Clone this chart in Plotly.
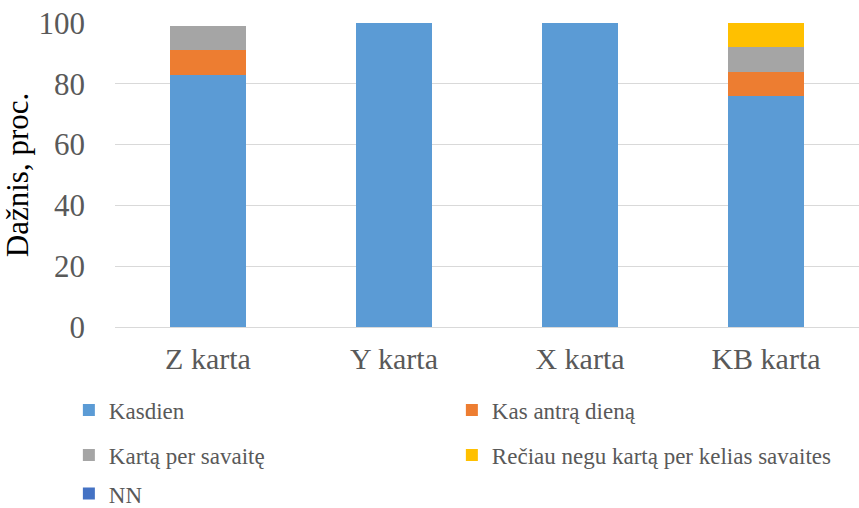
import plotly.graph_objects as go

kategorijos = ['Z karta', 'Y karta', 'X karta', 'KB karta']
kasdien = [83, 100, 100, 76]
kas_antra = [8, 0, 0, 8]
karta_per_savaite = [8, 0, 0, 8]
reciau = [0, 0, 0, 8]
nn = [0, 0, 0, 0]

serijos = [
    ('Kasdien', kasdien, '#5B9BD5', 'legend'),
    ('Kas antrą dieną', kas_antra, '#ED7D31', 'legend'),
    ('Kartą per savaitę', karta_per_savaite, '#A5A5A5', 'legend2'),
    ('Rečiau negu kartą per kelias savaites', reciau, '#FFC000', 'legend2'),
    ('NN', nn, '#4472C4', 'legend3'),
]

serif = 'Liberation Serif, Times New Roman, serif'

fig = go.Figure()
for vardas, reiksmes, spalva, leg in serijos:
    fig.add_trace(go.Bar(x=kategorijos, y=reiksmes, name=vardas,
                         marker=dict(color=spalva, line=dict(width=0)),
                         legend=leg))

def leg_style(y):
    return dict(orientation='h', xanchor='left', yanchor='middle',
                x=-0.062, y=y, entrywidth=338, entrywidthmode='pixels',
                font=dict(family=serif, size=23, color='#595959'),
                bgcolor='rgba(0,0,0,0)', traceorder='normal')

fig.update_layout(
    barmode='stack',
    bargap=0.59,
    width=859, height=508,
    margin=dict(l=115, r=0, t=23, b=181, autoexpand=False),
    plot_bgcolor='#FFFFFF', paper_bgcolor='#FFFFFF',
    font=dict(family=serif, color='#595959'),
    legend=leg_style(-0.273),
    legend2=leg_style(-0.421),
    legend3=leg_style(-0.548),
)
fig.update_yaxes(range=[0, 100], dtick=20, showgrid=True, gridcolor='#D9D9D9',
                 gridwidth=1.3, zeroline=False, showline=False, automargin=False,
                 tickfont=dict(family=serif, size=31, color='#595959'),
                 ticklabelstandoff=29,
                 title=dict(text='Dažnis, proc.', standoff=2,
                            font=dict(family=serif, size=31, color='#000000')))
fig.update_xaxes(showline=True, linecolor='#D9D9D9', linewidth=1.3, automargin=False,
                 tickfont=dict(family=serif, size=30, color='#595959'),
                 ticklabelstandoff=5)

# body marginą (8 px) nuimam, kad grafikas atsidurtų lango kampe
fig.write_html("out.html", config={'displayModeBar': False},
               post_script="document.body.style.margin='0';")
